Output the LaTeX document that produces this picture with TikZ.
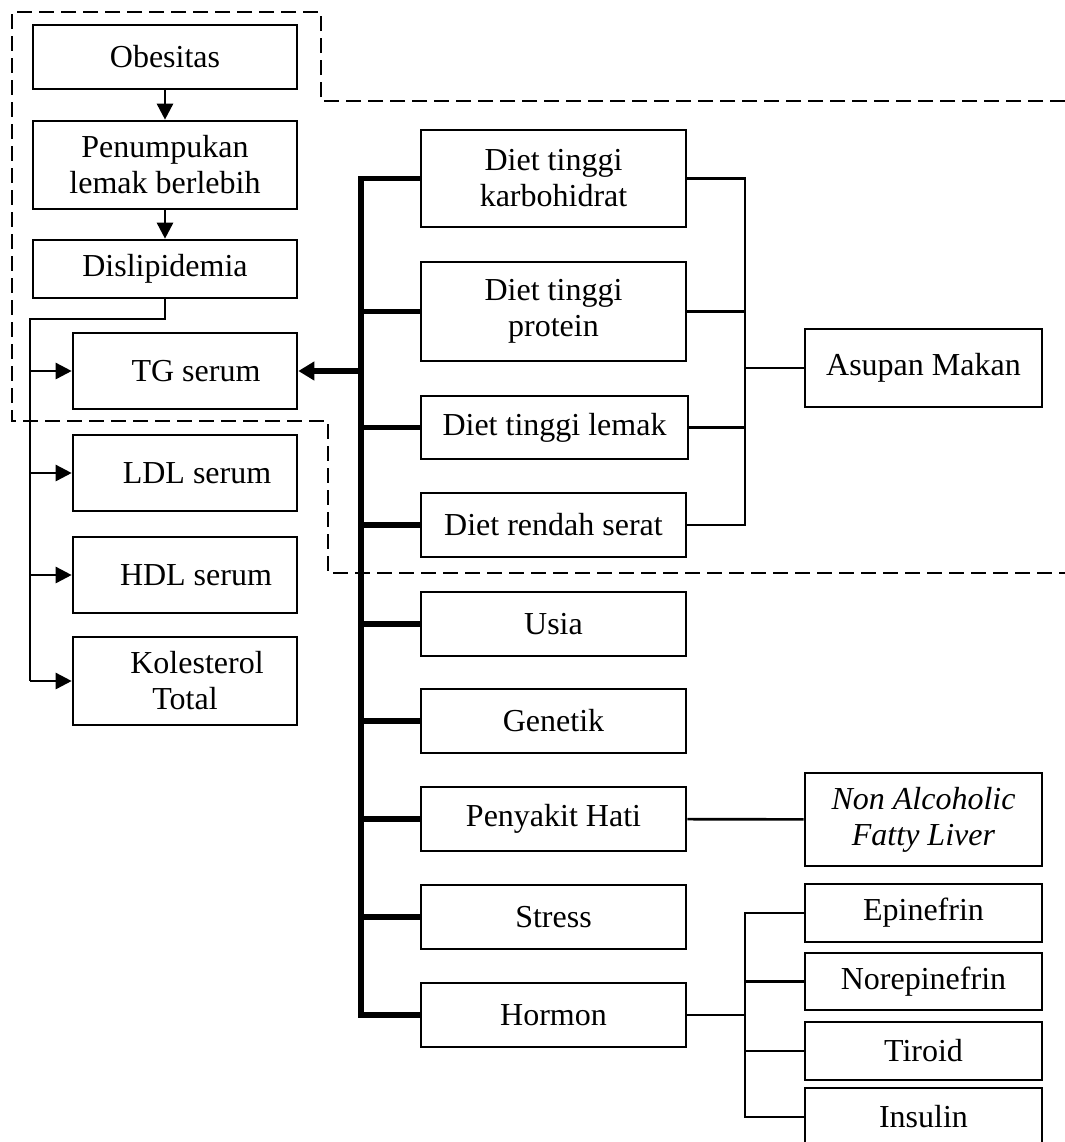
\documentclass[tikz,border=0pt]{standalone}
\usepackage{fontspec}
\setmainfont{Liberation Serif}
\usepackage{tikz}
\usetikzlibrary{arrows,arrows.meta,positioning,calc}
\tikzstyle{box}=[draw,line width=1.3pt,inner sep=2pt,align=center,font=\fontsize{16}{18}\selectfont]
\tikzstyle{leftbox}=[box,minimum width=132pt]
\tikzstyle{serumbox}=[box,minimum width=112pt]
\tikzstyle{midbox}=[box,minimum width=132.5pt,minimum height=32pt]
\tikzstyle{rightbox}=[box,minimum width=118.5pt]
\tikzstyle{link}=[line width=1.3pt]
\tikzstyle{bus}=[line width=2.6pt]
\tikzstyle{tip}=[-{Triangle[length=8pt,width=8pt]}]
\tikzstyle{region}=[line width=1pt,dash pattern=on 7.5pt off 3.5pt]

\begin{document}
\begin{tikzpicture}[x=0.5pt,y=-0.5pt]
\useasboundingbox (0,0) rectangle (1065,1142);

\node [leftbox,minimum height=32pt] (obes) at (165,57) {Obesitas};
\node [leftbox,minimum height=44pt] (penum) at (165,165) {Penumpukan\\lemak berlebih};
\node [leftbox,minimum height=29pt] (dislip) at (165,269) {Dislipidemia};
\node [serumbox,minimum height=38pt] (tg) at (185,371) {\hspace*{11pt}TG serum};
\node [serumbox,minimum height=38pt] (ldl) at (185,473) {\hspace*{12pt}LDL serum};
\node [serumbox,minimum height=38pt] (hdl) at (185,575) {\hspace*{11pt}HDL serum};
\node [serumbox,minimum height=44pt] (kol) at (185,681) {\hspace*{12pt}Kolesterol\\Total};

\node [midbox,minimum height=48.5pt] (karbo) at (553.5,178.5) {Diet tinggi\\karbohidrat};
\node [midbox,minimum height=49.5pt] (prot) at (553.5,311.5) {Diet tinggi\\protein};
\node [midbox,minimum width=133.5pt,minimum height=31.5pt] (lemak) at (554.5,427.5) {Diet tinggi lemak};
\node [midbox] (serat) at (553.5,525) {Diet rendah serat};
\node [midbox] (usia) at (553.5,624) {Usia};
\node [midbox] (gen) at (553.5,721) {Genetik};
\node [midbox] (hati) at (553.5,819) {Penyakit Hati};
\node [midbox] (stress) at (553.5,917) {Stress};
\node [midbox] (hormon) at (553.5,1015) {Hormon};

\node [rightbox,minimum height=39pt] (asupan) at (923.5,368) {Asupan Makan};
\node [rightbox,minimum height=46.5pt] (nafl) at (923.5,819.5) {\textit{Non Alcoholic}\\\textit{Fatty Liver}};
\node [rightbox,minimum height=29pt] (epi) at (923.5,913) {Epinefrin};
\node [rightbox,minimum height=28.5pt] (norepi) at (923.5,981.5) {Norepinefrin};
\node [rightbox,minimum height=29pt] (tiroid) at (923.5,1051) {Tiroid};
\node [rightbox,minimum height=29pt] (insulin) at (923.5,1117) {Insulin};

\coordinate (lbus) at (30,319);
\coordinate (busx) at (361,0);
\coordinate (brx) at (745,0);

% dashed regions
\draw [region] (1065,101) -- (321,101) -- (321,12) -- (12,12) -- (12,421)
  -- (328,421) -- (328,573) -- (1065,573);

\draw [link,tip] (obes) -- (penum);
\draw [link,tip] (penum) -- (dislip);
\draw [link] (dislip.south) |- (lbus) -- (lbus |- kol.west);
\foreach \n in {tg,ldl,hdl,kol}
  \draw [link,tip] (lbus |- \n.west) -- (\n.west);

\draw [bus] (karbo.west) -| (busx |- hormon.west) -- (hormon.west);
\foreach \n in {prot,lemak,serat,usia,gen,hati,stress}
  \draw [bus] (busx |- \n.west) -- (\n.west);
\draw [bus,-{Triangle[length=8pt,width=9pt]}] (busx |- tg.east) -- (tg.east);

\draw [link] (karbo.east) -| (brx |- serat.east) -- (serat.east);
\draw [link] (prot.east) -- (brx |- prot.east);
\draw [link] (lemak.east) -- (brx |- lemak.east);
\draw [link] (brx |- asupan.west) -- (asupan.west);

\draw [link] (hati) -- (nafl);

\draw [link] (epi.west) -| (brx |- insulin.west) -- (insulin.west);
\draw [link] (brx |- norepi.west) -- (norepi.west);
\draw [link] (brx |- tiroid.west) -- (tiroid.west);
\draw [link] (hormon.east) -- (brx |- hormon.east);
\end{tikzpicture}
\end{document}
